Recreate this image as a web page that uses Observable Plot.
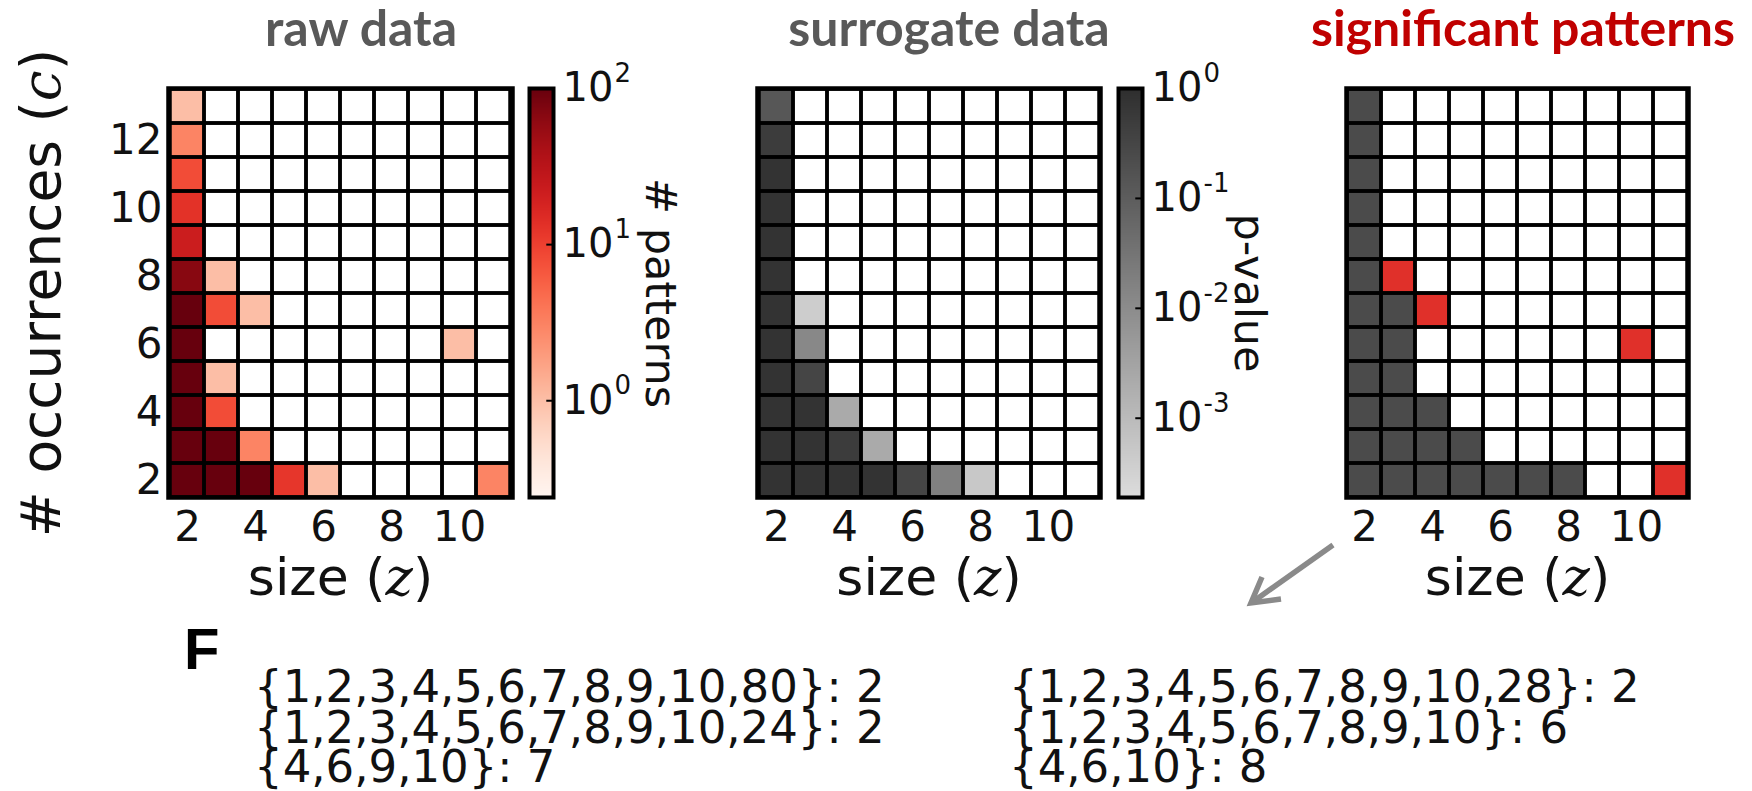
<!DOCTYPE html>
<html><head><meta charset="utf-8">
<script src="https://cdn.jsdelivr.net/npm/d3@7"></script>
<script src="https://cdn.jsdelivr.net/npm/@observablehq/plot@0.6"></script>
<style>
html,body{margin:0;padding:0;background:#fff;}
#fig{position:relative;width:1752px;height:791px;overflow:hidden;}
</style></head><body><div id="fig"></div>
<script>
// ---- axes / categories ----
const sizes = [2,3,4,5,6,7,8,9,10,11];
const occurrences = [13,12,11,10,9,8,7,6,5,4,3,2];
const sizeTicks = [2,4,6,8,10];
const occTicks = [2,4,6,8,10,12];

// ---- raw data: [size z, occurrences c, # patterns] ----
const rawCounts = [
  [2,13,1],[2,12,3],[2,11,8],[2,10,13],[2,9,22],[2,8,66],[2,7,120],[2,6,150],[2,5,200],[2,4,250],[2,3,300],[2,2,400],
  [3,8,1],[3,7,8],[3,5,1],[3,4,8],[3,3,150],[3,2,300],
  [4,7,1],[4,3,3],[4,2,150],
  [5,2,12],[6,2,1],[10,6,1],[11,2,3]
];
const rawColorDomain = [0.24, 100];
const rawColorTicks = [1, 10, 100];
const rawColorExps = ["0", "1", "2"];

// ---- surrogate data: [size z, occurrences c, p-value] ----
const surrogateP = [
  [2,13,0.13],[2,12,0.5],[2,11,0.8],[2,10,0.8],[2,9,0.8],[2,8,0.8],[2,7,0.8],[2,6,0.8],[2,5,0.8],[2,4,0.8],[2,3,0.8],[2,2,0.8],
  [3,7,0.0004],[3,6,0.012],[3,5,0.33],[3,4,0.8],[3,3,0.8],[3,2,0.8],
  [4,4,0.0022],[4,3,0.5],[4,2,0.8],
  [5,3,0.0022],[5,2,0.8],
  [6,2,0.33],[7,2,0.018],[8,2,0.0005]
];
const pColorDomain = [0.00019, 1];
const pColorTicks = [1, 0.1, 0.01, 0.001];
const pColorExps = ["0", "-1", "-2", "-3"];

// ---- significant patterns: [size z, occurrences c, status] ----
const significance = [
  [2,13,"ns"],[2,12,"ns"],[2,11,"ns"],[2,10,"ns"],[2,9,"ns"],[2,8,"ns"],[2,7,"ns"],[2,6,"ns"],[2,5,"ns"],[2,4,"ns"],[2,3,"ns"],[2,2,"ns"],
  [3,7,"ns"],[3,6,"ns"],[3,5,"ns"],[3,4,"ns"],[3,3,"ns"],[3,2,"ns"],
  [4,4,"ns"],[4,3,"ns"],[4,2,"ns"],
  [5,3,"ns"],[5,2,"ns"],
  [6,2,"ns"],[7,2,"ns"],[8,2,"ns"],
  [3,8,"sig"],[4,7,"sig"],[10,6,"sig"],[11,2,"sig"]
];

const panelTitles = ["raw data", "surrogate data", "significant patterns"];
const patternsLeft = ["{1,2,3,4,5,6,7,8,9,10,80}: 2", "{1,2,3,4,5,6,7,8,9,10,24}: 2", "{4,6,9,10}: 7"];
const patternsRight = ["{1,2,3,4,5,6,7,8,9,10,28}: 2", "{1,2,3,4,5,6,7,8,9,10}: 6", "{4,6,10}: 8"];

// ---- layout ----
const fig = document.getElementById("fig");
const GRID_TOP = 88, GRID_H = 409, SVG_H = 640;
const MB = SVG_H - GRID_TOP - GRID_H;
const grid = sizes.flatMap(z => occurrences.map(c => ({z, c})));
const baseStyle = {fontFamily: "DejaVu Sans", background: "transparent", overflow: "visible", color: "#111", maxWidth: "none"};

function place(node, left) {
  node.style.position = "absolute";
  node.style.left = left + "px";
  node.style.top = "0px";
  fig.appendChild(node);
}
function mathLabel(svg, full, pre, v, post) {
  d3.select(svg).selectAll("text").filter(function() { return this.textContent === full; }).each(function() {
    const t = d3.select(this);
    t.text(null);
    t.append("tspan").text(pre);
    t.append("tspan").attr("font-family", "DejaVu Serif").attr("font-style", "italic").text(v);
    t.append("tspan").text(post);
  });
}

function heatPanel({cells, color, left, width, mL, mR, yAxis}) {
  const marks = [
    Plot.cell(grid, {x: "z", y: "c", fill: "white", inset: 0}),
    Plot.cell(cells, {x: d => d[0], y: d => d[1], fill: d => d[2], inset: 0}),
    Plot.cell(grid, {x: "z", y: "c", fill: "none", stroke: "black", strokeWidth: 3.5, inset: 0}),
    Plot.frame({stroke: "black", strokeWidth: 4.5}),
    Plot.axisX(sizeTicks, {tickSize: 0, tickPadding: 14, fontSize: 42, label: null}),
    Plot.text(["size (z)"], {frameAnchor: "bottom", textAnchor: "middle", lineAnchor: "middle", dy: 81, fontSize: 52})
  ];
  if (yAxis) {
    marks.push(
      Plot.axisY(occTicks, {tickSize: 0, tickPadding: 6, fontSize: 42, label: null}),
      Plot.text(["# occurrences (c)"], {frameAnchor: "left", textAnchor: "middle", lineAnchor: "middle", rotate: -90, dx: 42 - mL, fontSize: 55})
    );
  }
  const svg = Plot.plot({
    width, height: SVG_H, marginLeft: mL, marginRight: mR, marginTop: GRID_TOP, marginBottom: MB,
    style: baseStyle,
    x: {type: "band", domain: sizes, padding: 0},
    y: {type: "band", domain: occurrences, padding: 0, axis: yAxis ? undefined : null},
    color,
    marks
  });
  mathLabel(svg, "size (z)", "size (", "z", ")");
  mathLabel(svg, "# occurrences (c)", "# occurrences (", "c", ")");
  place(svg, left);
}

function colorbar({color, domain, ticks, exps, left, mL, label, labelDx}) {
  const n = GRID_H;
  const l0 = Math.log10(domain[0]), l1 = Math.log10(domain[1]);
  const slices = d3.range(n).map(i => ({a: 10 ** (l0 + (l1 - l0) * i / n), b: 10 ** (l0 + (l1 - l0) * (i + 1) / n)}));
  const width = 180;
  const svg = Plot.plot({
    width, height: SVG_H, marginLeft: mL, marginRight: width - mL - 24, marginTop: GRID_TOP, marginBottom: MB,
    style: baseStyle,
    x: {domain: [0, 1], axis: null},
    y: {type: "log", domain, axis: null},
    color,
    marks: [
      Plot.rect(slices, {x1: 0, x2: 1, y1: "a", y2: "b", fill: d => Math.sqrt(d.a * d.b), shapeRendering: "crispEdges"}),
      Plot.ruleY(ticks, {x1: 0.72, x2: 1, stroke: "black", strokeWidth: 2}),
      Plot.frame({stroke: "black", strokeWidth: 4}),
      Plot.text(ticks, {y: d => d, frameAnchor: "right", dx: 9, text: () => "10", textAnchor: "start", fontSize: 40}),
      Plot.text(ticks, {y: d => d, frameAnchor: "right", dx: 61, dy: -15, text: (d, i) => exps[i], textAnchor: "start", fontSize: 26}),
      Plot.text([label], {frameAnchor: "right", textAnchor: "middle", lineAnchor: "middle", rotate: 90, dx: labelDx, fontSize: 43})
    ]
  });
  place(svg, left);
}

const rawColor = {type: "log", scheme: "reds", domain: rawColorDomain, clamp: true};
const pColor = {type: "log", domain: pColorDomain, range: ["#dcdcdc", "#2e2e2e"], clamp: true};
const sigColor = {type: "ordinal", domain: ["ns", "sig"], range: ["#4b4b4b", "#e0302a"]};

heatPanel({cells: rawCounts, color: rawColor, left: 0, width: 520, mL: 168, mR: 8, yAxis: true});
colorbar({color: rawColor, domain: rawColorDomain, ticks: rawColorTicks, exps: rawColorExps, left: 520, mL: 9, label: "# patterns", labelDx: 106});
heatPanel({cells: surrogateP, color: pColor, left: 700, width: 410, mL: 57, mR: 10, yAxis: false});
colorbar({color: pColor, domain: pColorDomain, ticks: pColorTicks, exps: pColorExps, left: 1110, mL: 8, label: "p-value", labelDx: 106});
heatPanel({cells: significance, color: sigColor, left: 1290, width: 420, mL: 56, mR: 22, yAxis: false});

// ---- overlay: titles, arrow, panel F text ----
const ov = d3.select(fig).append("svg")
  .attr("width", 1752).attr("height", 791)
  .style("position", "absolute").style("left", "0px").style("top", "0px").style("pointer-events", "none");
const titleX = [361, 949, 1523];
const titleColor = ["#595959", "#595959", "#c00000"];
ov.selectAll("text.title").data(panelTitles).join("text").attr("class", "title")
  .attr("x", (d, i) => titleX[i]).attr("y", 46).attr("text-anchor", "middle")
  .attr("font-family", "Lato, 'Open Sans', sans-serif").attr("font-weight", 700).attr("font-size", 50)
  .attr("fill", (d, i) => titleColor[i]).text(d => d);

ov.append("line").attr("x1", 1333).attr("y1", 545).attr("x2", 1254).attr("y2", 601)
  .attr("stroke", "#8a8a8a").attr("stroke-width", 5.5);
ov.append("polyline").attr("points", "1262,577 1251,603 1281,599").attr("fill", "none")
  .attr("stroke", "#8a8a8a").attr("stroke-width", 5.5).attr("stroke-linejoin", "miter");

ov.append("text").attr("x", 184).attr("y", 669).attr("font-family", "'Liberation Sans', Arial, sans-serif")
  .attr("font-weight", 700).attr("font-size", 58).attr("fill", "#000").text("F");
const baselines = [702, 743, 782];
[[patternsLeft, 254], [patternsRight, 1009]].forEach(([list, x]) => {
  ov.append("g").selectAll("text").data(list).join("text")
    .attr("x", x).attr("y", (d, i) => baselines[i])
    .attr("font-family", "'DejaVu Sans', sans-serif").attr("font-size", 45).attr("fill", "#111")
    .text(d => d);
});
</script></body></html>
